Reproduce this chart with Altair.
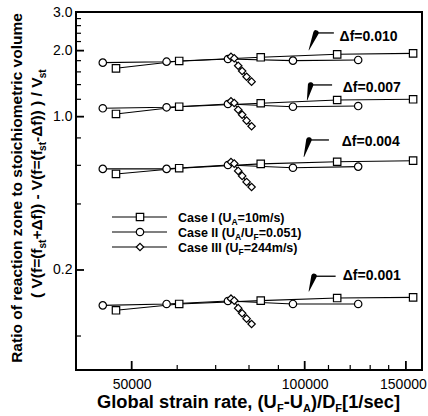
import altair as alt
import pandas as pd

# ---------------- data ----------------
df_levels = ["0.001", "0.004", "0.007", "0.010"]
case_names = ["Case I", "Case II", "Case III"]

rate_case1 = [46950, 60480, 83850, 113900, 154400]
rate_case2 = [44530, 57500, 73530, 95400, 123900]
rate_case3 = [74430, 75400, 76610, 77840, 79240, 80830]

case1_ratio = {
    "0.010": [1.661, 1.794, 1.865, 1.924, 1.944],
    "0.007": [1.029, 1.110, 1.151, 1.191, 1.200],
    "0.004": [0.548, 0.582, 0.609, 0.623, 0.630],
    "0.001": [0.131, 0.140, 0.145, 0.149, 0.150],
}
case2_ratio = {
    "0.010": [1.763, 1.781, 1.832, 1.800, 1.813],
    "0.007": [1.092, 1.103, 1.142, 1.110, 1.118],
    "0.004": [0.578, 0.578, 0.602, 0.585, 0.592],
    "0.001": [0.138, 0.140, 0.1445, 0.140, 0.140],
}
case3_ratio = {
    "0.010": [1.876, 1.845, 1.707, 1.615, 1.521, 1.444],
    "0.007": [1.175, 1.154, 1.076, 1.021, 0.959, 0.904],
    "0.004": [0.621, 0.611, 0.566, 0.537, 0.504, 0.478],
    "0.001": [0.148, 0.145, 0.134, 0.127, 0.120, 0.1135],
}

x_major = [50000, 100000, 150000]
x_minor = [60000, 70000, 80000, 90000, 110000, 120000, 130000, 140000]
y_major = [0.2, 1.0, 2.0, 3.0]
y_minor = [0.1, 0.4, 0.6, 0.8, 1.2, 1.4, 1.6, 1.8, 2.2, 2.4, 2.6, 2.8]

ann_label = ["\u0394f=0.010", "\u0394f=0.007", "\u0394f=0.004", "\u0394f=0.001"]
ann_text_x = [115000, 116500, 116000, 116500]
ann_text_y = [2.315, 1.347, 0.769, 0.1873]
ann_corner_x = [104600, 102400, 101700, 103800]
ann_end_x = [112400, 111600, 110200, 113200]
ann_arrow_y = [2.408, 1.395, 0.783, 0.1873]
ann_tip_x = [101700, 101000, 99700, 101700]
ann_tip_y = [2.013, 1.191, 0.657, 0.160]

# ---------------- tables ----------------
rows = []
for case, rates, rset in zip(case_names, [rate_case1, rate_case2, rate_case3],
                             [case1_ratio, case2_ratio, case3_ratio]):
    for lvl in df_levels:
        for i, (r, v) in enumerate(zip(rates, rset[lvl])):
            rows.append(dict(case=case, df=lvl, rate=r, ratio=v, i=i, grp=case + lvl))
data = pd.DataFrame(rows)

W, H = 346, 358
FONT = "Liberation Sans"
xs = alt.Scale(type="log", domain=[40000, 160000], nice=False)
ys = alt.Scale(type="log", domain=[0.07, 3.0], nice=False)

xaxis = alt.Axis(values=x_major, format="d", title=None, grid=False, domain=False,
                 ticks=False, labelFontSize=14, labelFont=FONT, labelColor="black",
                 labelPadding=7, labelFlush=False,
                 labelOffset=alt.condition("datum.value > 140000", alt.value(-3), alt.value(0)))
yaxis = alt.Axis(values=y_major, format=".1f", title=None, grid=False, domain=False,
                 ticks=False, labelFontSize=14, labelFont=FONT, labelColor="black",
                 labelPadding=4)

def X(f):
    return alt.X(f, scale=xs, axis=xaxis)

def Y(f):
    return alt.Y(f, scale=ys, axis=yaxis)

lines = alt.Chart(data).mark_line(color="black", strokeWidth=1.1).encode(
    x=X("rate:Q"), y=Y("ratio:Q"), detail="grp:N", order="i:Q")
points = alt.Chart(data).mark_point(filled=True, fill="white", stroke="black",
                                    strokeWidth=1.2, opacity=1, size=55).encode(
    x=X("rate:Q"), y=Y("ratio:Q"),
    shape=alt.Shape("case:N", scale=alt.Scale(domain=case_names,
                                              range=["square", "circle", "diamond"]),
                    legend=None),
)

# inward ticks
def xticks(vals, ln, sw):
    return alt.Chart(pd.DataFrame({"rate": vals})).mark_rule(color="black", strokeWidth=sw).encode(
        x=X("rate:Q"), y=alt.value(H), y2=alt.value(H - ln))

def yticks(vals, ln, sw):
    return alt.Chart(pd.DataFrame({"ratio": vals})).mark_rule(color="black", strokeWidth=sw).encode(
        y=Y("ratio:Q"), x=alt.value(0), x2=alt.value(ln))

tick_layers = [xticks(x_major, 9, 1.8), xticks(x_minor, 5, 1.2),
               yticks(y_major, 8, 1.8), yticks(y_minor, 5, 1.2)]

# annotations
ann = pd.DataFrame(dict(label=ann_label, rate=ann_text_x, ratio=ann_text_y))
ann_text = alt.Chart(ann).mark_text(align="left", baseline="middle", fontSize=14,
                                    fontWeight="bold", font=FONT, color="black").encode(
    x=X("rate:Q"), y=Y("ratio:Q"), text="label:N")

hrows, wrows = [], []
for lab, cx, ex, ay, tx, ty in zip(ann_label, ann_corner_x, ann_end_x, ann_arrow_y, ann_tip_x, ann_tip_y):
    hrows += [dict(label=lab, rate=cx, ratio=ay, o=0), dict(label=lab, rate=ex, ratio=ay, o=1)]
    wrows += [dict(label=lab, rate=cx, ratio=ay, o=0, w=5.5),
              dict(label=lab, rate=tx, ratio=ty, o=1, w=0.6)]
arrow_h = alt.Chart(pd.DataFrame(hrows)).mark_line(color="black", strokeWidth=1.3).encode(
    x=X("rate:Q"), y=Y("ratio:Q"), detail="label:N", order="o:Q")
arrow_w = alt.Chart(pd.DataFrame(wrows)).mark_trail(color="black").encode(
    x=X("rate:Q"), y=Y("ratio:Q"), detail="label:N", order="o:Q",
    size=alt.Size("w:Q", scale=None, legend=None))

# ---------------- text with subscripts ----------------
CW = {' ': 278, '\u00a0': 278, '(': 333, ')': 333, '/': 278, '=': 584, '+': 584, '-': 333,
      '.': 278, ',': 278, '[': 333, ']': 333, 'A': 722, 'C': 722, 'D': 722, 'F': 611,
      'G': 778, 'I': 278, 'R': 722, 'U': 722, 'V': 667, 'a': 556, 'b': 611, 'c': 556,
      'e': 556, 'f': 333, 'h': 611, 'i': 278, 'l': 278, 'm': 889, 'n': 611, 'o': 611,
      'r': 389, 's': 556, 't': 333, 'u': 611, 'v': 556, 'z': 500, '\u0394': 667}
for d in "0123456789":
    CW[d] = 556

def tw(s, fs):
    return sum(CW.get(c, 556) for c in s) * fs / 1000.0

one = pd.DataFrame({"a": [0]})

def seg_layers(parts, x0, y0, fs, sfs, shift, angle=0):
    out, pos = [], 0.0
    for txt, sub in parts:
        f = sfs if sub else fs
        if angle == 0:
            x, y = x0 + pos, y0 + (shift if sub else 0)
        else:
            x, y = x0 + (shift if sub else 0), y0 - pos
        out.append(alt.Chart(one).mark_text(text=txt, align="left", baseline="alphabetic",
                                            angle=angle, fontSize=f, fontWeight="bold",
                                            font=FONT, color="black").encode(
            x=alt.value(x), y=alt.value(y)))
        pos += tw(txt, f)
    return out

text_layers = []
# x title
text_layers += seg_layers([("Global strain rate, (U", 0), ("F", 1), ("-U", 0), ("A", 1),
                           (")/D", 0), ("F", 1), ("\u00a0[1/sec]", 0)],
                          21, 396, 18.3, 11, 4)
# y title line 1
text_layers.append(alt.Chart(one).mark_text(
    text="Ratio of reaction zone to stoichiometric volume", align="center",
    baseline="alphabetic", angle=270, fontSize=15.5, fontWeight="bold", font=FONT,
    color="black").encode(x=alt.value(-54), y=alt.value(176)))
# y title line 2
text_layers += seg_layers([("( V(f=(f", 0), ("st", 1), ("+\u0394f)) - V(f=(f", 0), ("st", 1),
                           ("-\u0394f)) ) / V", 0), ("st", 1)],
                          -34, 286, 15.5, 10, 3.5, angle=270)

# legend
leg_y = [205, 220, 235]
leg_shapes = ["square", "circle", "diamond"]
leg_parts = [
    [("Case I (U", 0), ("A", 1), ("=10m/s)", 0)],
    [("Case II (U", 0), ("A", 1), ("/U", 0), ("F", 1), ("=0.051)", 0)],
    [("Case III (U", 0), ("F", 1), ("=244m/s)", 0)],
]
legend_layers = []
for ly, shp, parts in zip(leg_y, leg_shapes, leg_parts):
    legend_layers.append(alt.Chart(one).mark_rule(color="black", strokeWidth=1.1).encode(
        x=alt.value(36), x2=alt.value(91), y=alt.value(ly)))
    legend_layers.append(alt.Chart(one).mark_point(shape=shp, filled=True, fill="white",
                                                   stroke="black", strokeWidth=1.2,
                                                   opacity=1, size=55).encode(
        x=alt.value(64), y=alt.value(ly)))
    legend_layers += seg_layers(parts, 102, ly + 4.5, 12.5, 8.5, 3)

chart = alt.layer(lines, points, *tick_layers, arrow_h, arrow_w, ann_text,
                  *legend_layers, *text_layers).properties(
    width=W, height=H,
    padding={"left": 76, "top": 12, "right": 6, "bottom": 46},
    autosize=alt.AutoSizeParams(type="none"),
).configure_view(stroke="black", strokeWidth=2)

chart.save("out.html", embed_options={"renderer": "svg", "actions": False})
